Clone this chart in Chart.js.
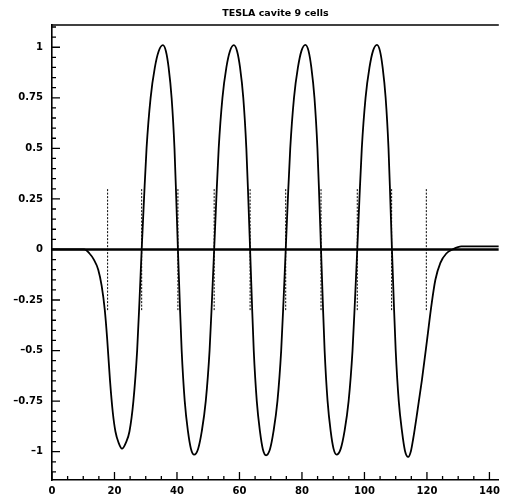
<!DOCTYPE html>
<html><head><meta charset="utf-8">
<script src="https://cdn.jsdelivr.net/npm/chart.js@4.4.1/dist/chart.umd.min.js"></script>
<style>html,body{margin:0;padding:0;background:#fff;overflow:hidden}</style>
</head><body>
<canvas id="c" width="505" height="495"></canvas>
<script>
const titleText = 'TESLA cavite 9 cells';
const curveX = [
  0, 5, 10.3, 12.0, 13.4, 14.8, 15.9, 16.9, 17.65, 18.55, 19.45, 20.3, 21.3, 22.4,
  23.66, 24.79, 26.05, 27.25, 28.01, 28.7,
  29.45, 30.26, 31.56, 32.92, 34.14, 35.5, 36.46, 37.32, 38.28, 39.2, 39.77, 40.3,
  40.87, 41.5, 42.48, 43.52, 44.46, 45.5, 46.78, 47.93, 49.21, 50.43, 51.2, 51.9,
  52.59, 53.35, 54.55, 55.81, 56.94, 58.2, 59.24, 60.18, 61.22, 62.2, 62.83, 63.4,
  63.96, 64.57, 65.54, 66.56, 67.48, 68.5, 69.76, 70.89, 72.15, 73.35, 74.11, 74.8,
  75.49, 76.25, 77.45, 78.71, 79.84, 81.1, 82.1, 83.0, 84.0, 84.95, 85.55, 86.1,
  86.65, 87.25, 88.2, 89.2, 90.1, 91.1, 92.42, 93.61, 94.93, 96.18, 96.97, 97.7,
  98.39, 99.15, 100.35, 101.61, 102.74, 104.0, 104.96, 105.82, 106.78, 107.7, 108.27, 108.8,
  109.37, 110.0, 110.98, 112.02, 112.96, 114.0, 114.9, 115.6, 116.9, 118.4, 120.1, 121.4, 122.7, 124.3, 126.2, 128.2,
  131, 143
];
const curveY = [
  0, 0, 0, -0.02, -0.05, -0.1, -0.18, -0.3, -0.44, -0.645, -0.805, -0.9, -0.955, -0.985,
  -0.955, -0.9, -0.75, -0.5, -0.25, 0,
  0.25, 0.5, 0.75, 0.9, 0.98, 1.01, 0.98, 0.9, 0.75, 0.5, 0.25, 0,
  -0.25, -0.5, -0.75, -0.9, -0.985, -1.015, -0.985, -0.9, -0.75, -0.5, -0.25, 0,
  0.25, 0.5, 0.75, 0.9, 0.98, 1.01, 0.98, 0.9, 0.75, 0.5, 0.25, 0,
  -0.25, -0.5, -0.75, -0.9, -0.988, -1.018, -0.988, -0.9, -0.75, -0.5, -0.25, 0,
  0.25, 0.5, 0.75, 0.9, 0.982, 1.012, 0.982, 0.9, 0.75, 0.5, 0.25, 0,
  -0.25, -0.5, -0.75, -0.9, -0.985, -1.015, -0.985, -0.9, -0.75, -0.5, -0.25, 0,
  0.25, 0.5, 0.75, 0.9, 0.982, 1.012, 0.982, 0.9, 0.75, 0.5, 0.25, 0,
  -0.25, -0.5, -0.75, -0.9, -0.995, -1.026, -0.995, -0.936, -0.805, -0.645, -0.44, -0.28, -0.15, -0.066, -0.02, 0,
  0.015, 0.015
];
const zeroX = [0, 143];
const zeroY = [0, 0];
const irisX = [17.8, 28.7, 40.3, 51.9, 63.4, 74.8, 86.1, 97.7, 108.7, 119.8];
const irisY = [-0.3, 0.3];
const xTicks = [0, 20, 40, 60, 80, 100, 120, 140];
const yTicks = [-1, -0.75, -0.5, -0.25, 0, 0.25, 0.5, 0.75, 1];
const yTickLabels = ['\u20131', '\u20130.75', '\u20130.5', '\u20130.25', '0', '0.25', '0.5', '0.75', '1'];
const xRange = [0, 143];
const yRange = [-1.14, 1.11];

const curveData = curveX.map((x, i) => ({x, y: curveY[i]}));
const zeroData = zeroX.map((x, i) => ({x, y: zeroY[i]}));
const irisData = irisX.flatMap(x => [{x, y: irisY[0]}, {x, y: irisY[1]}, {x, y: null}]);

const inTicks = {
  id: 'inTicks',
  afterDraw(chart) {
    const {ctx, chartArea: a, scales: {x, y}} = chart;
    ctx.save();
    ctx.strokeStyle = '#000';
    ctx.lineWidth = 1.3;
    ctx.beginPath();
    for (let i = 0; i <= 28; i++) {
      const v = i * 5;
      const px = x.getPixelForValue(v);
      const L = (i % 4 === 0) ? 8 : 4;
      ctx.moveTo(px, a.bottom); ctx.lineTo(px, a.bottom - L);
    }
    for (let i = -22; i <= 22; i++) {
      const v = i * 0.05;
      const py = y.getPixelForValue(v);
      const L = (i % 5 === 0) ? 8 : 4;
      ctx.moveTo(a.left, py); ctx.lineTo(a.left + L, py);
    }
    ctx.stroke();
    ctx.lineWidth = 1.6;
    ctx.beginPath();
    ctx.moveTo(a.left, a.top); ctx.lineTo(a.right, a.top);
    ctx.stroke();
    ctx.restore();
  }
};

new Chart(document.getElementById('c'), {
  type: 'line',
  data: {
    datasets: [
      {data: zeroData, borderColor: '#000', borderWidth: 2.6, pointRadius: 0, tension: 0},
      {data: irisData, borderColor: '#000', borderWidth: 1, borderDash: [2, 1.5], pointRadius: 0, tension: 0, spanGaps: false},
      {data: curveData, borderColor: '#000', borderWidth: 1.8, pointRadius: 0, cubicInterpolationMode: 'monotone'}
    ]
  },
  options: {
    responsive: false,
    animation: false,
    devicePixelRatio: 1,
    layout: {padding: {left: 0, right: 0, top: 0, bottom: 0}},
    plugins: {
      legend: {display: false},
      tooltip: {enabled: false},
      title: {
        display: true, text: titleText, fullSize: false, color: '#000',
        font: {family: 'DejaVu Sans', weight: 'bold', size: 9.5, lineHeight: 1.2},
        padding: {top: 8, bottom: 5.6}
      }
    },
    scales: {
      x: {
        type: 'linear', min: xRange[0], max: xRange[1],
        afterBuildTicks: s => { s.ticks = xTicks.map(v => ({value: v})); },
        afterFit: s => { s.height = 14; },
        grid: {display: false, drawTicks: false},
        border: {display: true, color: '#000', width: 1.6},
        ticks: {color: '#000', padding: 5, maxRotation: 0, autoSkip: false,
          font: {family: 'DejaVu Sans', weight: 'bold', size: 10}}
      },
      y: {
        type: 'linear', min: yRange[0], max: yRange[1],
        afterBuildTicks: s => { s.ticks = yTicks.map(v => ({value: v})); },
        afterFit: s => { s.width = 52; },
        grid: {display: false, drawTicks: false},
        border: {display: true, color: '#000', width: 1.6},
        ticks: {color: '#000', padding: 9, autoSkip: false,
          callback: (v) => { const i = yTicks.indexOf(v); return i >= 0 ? yTickLabels[i] : ''; },
          font: {family: 'DejaVu Sans', weight: 'bold', size: 10}}
      }
    }
  },
  plugins: [inTicks]
});
</script>
</body></html>
